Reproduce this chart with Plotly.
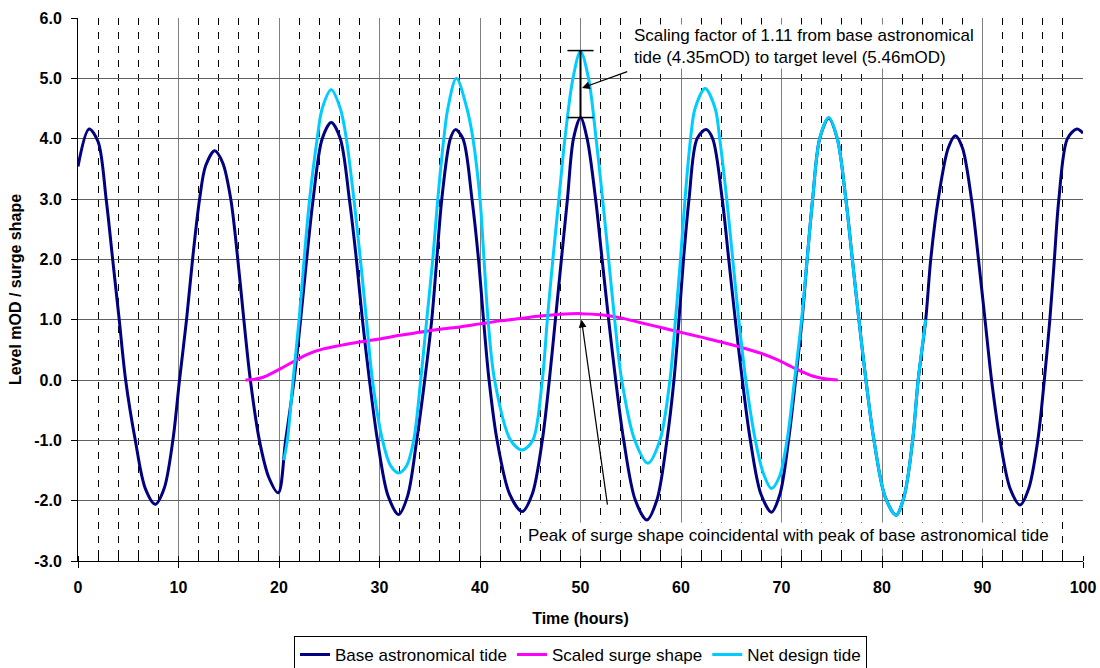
import plotly.graph_objects as go

# ---------------- data ----------------
base_time = [0.0, 1.1, 2.0, 2.8, 3.45, 4.1, 4.74, 5.7, 6.7, 7.7, 8.57, 9.44, 10.1, 10.8, 11.4, 12.1, 12.7, 13.6,
             14.4, 15.2, 15.9, 16.5, 17.15, 18.05, 19.0, 19.93, 20.66, 21.5, 22.15, 22.75, 23.4, 24.3, 25.2,
             26.1, 27.0, 27.7, 28.3, 29.0, 29.8, 30.85, 31.9, 32.8, 33.7, 34.5, 35.2, 35.7, 36.2, 37.05, 37.55,
             38.3, 39.2, 39.85, 40.35, 40.9, 41.7, 42.95, 44.2, 45.2, 46.2, 46.9, 47.5, 48.1, 48.7, 49.3, 50.0,
             50.66, 51.5, 52.15, 52.8, 53.5, 54.3, 55.45, 56.6, 57.6, 58.6, 59.3, 59.8, 60.25, 60.8, 61.6, 62.5,
             63.15, 64.1, 64.75, 65.4, 66.1, 66.9, 67.95, 69.0, 69.85, 70.7, 71.4, 72.05, 72.55, 73.1, 73.8, 74.7,
             75.55, 76.4, 77.05, 77.7, 78.4, 79.2, 80.3, 81.4, 82.2, 83.05, 83.6, 84.35, 84.85, 85.6, 86.6, 87.3,
             88.0, 88.9, 89.6, 90.25, 90.9, 91.75, 92.75, 93.75, 94.6, 95.5, 96.15, 96.7, 97.15, 97.6, 98.45, 99.4,
             100.0]
base_level = [3.54, 4.16, 3.95, 3.0, 2.0, 1.0, 0.0, -1.0, -1.80, -2.06, -1.80, -1.0, 0.0, 1.0, 2.0, 3.0, 3.55, 3.80,
              3.6, 3.0, 2.0, 1.0, 0.0, -1.0, -1.62, -1.87, -1.0, 0.0, 1.0, 2.0, 3.0, 4.0, 4.27,
              4.0, 3.0, 2.0, 1.0, 0.0, -1.0, -1.92, -2.23, -1.92, -1.0, 0.0, 1.0, 2.0, 3.0, 4.0, 4.15,
              4.0, 3.0, 2.0, 1.0, 0.0, -1.0, -1.89, -2.18, -1.89, -1.0, 0.0, 1.0, 2.0, 3.0, 4.0, 4.35,
              4.0, 3.0, 2.0, 1.0, 0.0, -1.0, -1.99, -2.32, -1.99, -1.0, 0.0, 1.0, 2.0, 3.0, 4.0, 4.15,
              4.0, 3.0, 2.0, 1.0, 0.0, -1.0, -1.89, -2.19, -1.89, -1.0, 0.0, 1.0, 2.0, 3.0, 4.0, 4.34,
              4.0, 3.0, 2.0, 1.0, 0.0, -1.0, -1.93, -2.24, -1.93, -1.0, 0.0, 1.0, 2.0, 3.0, 3.85, 4.05,
              3.85, 3.0, 2.0, 1.0, 0.0, -1.0, -1.80, -2.07, -1.80, -1.0, 0.0, 1.0, 2.0, 3.0, 4.0, 4.16,
              4.09]

surge_time = [16.66, 17.5, 18.5, 19.5, 20.5, 21.5, 22.5, 23.5, 24.5, 26.0, 28.0, 30.0, 32.0, 34.0, 36.0, 38.0,
              40.0, 42.0, 44.0, 46.0, 48.0, 50.0, 52.0, 54.0, 56.0, 58.0, 60.0, 62.0, 64.0, 66.0, 68.0, 69.5,
              71.0, 72.0, 73.0, 74.0, 75.0, 75.6]
surge_level = [0.0, 0.01, 0.05, 0.13, 0.22, 0.31, 0.40, 0.47, 0.52, 0.57, 0.63, 0.68, 0.74, 0.79, 0.84, 0.88,
               0.93, 0.98, 1.02, 1.06, 1.09, 1.10, 1.08, 1.03, 0.95, 0.87, 0.79, 0.71, 0.63, 0.54, 0.44, 0.34,
               0.22, 0.14, 0.07, 0.03, 0.01, 0.0]

net_time = [20.47, 20.83, 21.4, 22.0, 22.5, 23.05, 23.8, 24.3, 25.2, 26.1, 26.7, 27.45, 28.1, 28.7, 29.3, 30.3,
            31.1, 31.9, 32.7, 33.4, 34.1, 34.7, 35.3, 35.8, 36.4, 36.8, 37.65, 38.7, 39.3, 40.0, 40.4, 40.8,
            41.45, 43.05, 44.2, 45.25, 46.2, 46.7, 47.25, 47.85, 48.45, 49.25, 50.0, 50.8, 51.55, 52.2, 52.8,
            53.4, 54.1, 55.4, 56.7, 57.9, 58.9, 59.45, 59.95, 60.4, 60.95, 61.4, 62.4, 63.4, 63.85, 64.55,
            65.15, 65.75, 66.45, 67.4, 68.2, 69.0, 69.8, 70.55, 71.3, 72.0, 72.55, 73.1, 73.8, 74.7, 75.55,
            76.4, 77.05, 77.7, 78.4, 79.2, 80.3, 81.4, 82.2, 83.05, 83.6, 84.35]
net_level = [-1.33, -1.0, 0.0, 1.0, 2.0, 3.0, 4.0, 4.5, 4.81, 4.5, 4.0, 3.0, 2.0, 1.0, 0.0, -1.0,
             -1.42, -1.54, -1.42, -1.0, 0.0, 1.0, 2.0, 3.0, 4.0, 4.5, 5.0, 4.5, 4.0, 3.0, 2.0, 1.0,
             0.0, -1.0, -1.16, -1.0, 0.0, 1.0, 2.0, 3.0, 4.0, 5.0, 5.45, 5.0, 4.0, 3.0, 2.0,
             1.0, 0.0, -1.0, -1.38, -1.0, 0.0, 1.0, 2.0, 3.0, 4.0, 4.5, 4.83, 4.5, 4.0, 3.0,
             2.0, 1.0, 0.0, -1.0, -1.55, -1.8, -1.6, -1.0, 0.0, 1.0, 2.0, 3.0, 4.0, 4.35, 4.0,
             3.0, 2.0, 1.0, 0.0, -1.0, -1.93, -2.24, -1.93, -1.0, 0.0, 1.0]

assert len(base_time) == len(base_level)
assert len(surge_time) == len(surge_level)
assert len(net_time) == len(net_level)

series_names = ["Base astronomical tide", "Scaled surge shape", "Net design tide"]
series_colors = ["#000080", "#FF00FF", "#00CCFF"]

x_tick_vals = [0, 10, 20, 30, 40, 50, 60, 70, 80, 90, 100]
x_tick_text = ["0", "10", "20", "30", "40", "50", "60", "70", "80", "90", "100"]
y_tick_vals = [-3, -2, -1, 0, 1, 2, 3, 4, 5, 6]
y_tick_text = ["-3.0", "-2.0", "-1.0", "0.0", "1.0", "2.0", "3.0", "4.0", "5.0", "6.0"]

peak_time = 50.0
base_peak = 4.35
target_level = 5.46
cap_half_width = 1.3

note_scaling = "Scaling factor of 1.11 from base astronomical<br>tide (4.35mOD) to target level (5.46mOD)"
note_peak = "Peak of surge shape coincidental with peak of base astronomical tide"

x_title = "Time (hours)"
y_title = "Level mOD / surge shape"

FONT = "Liberation Sans, Arial, sans-serif"

# ---------------- figure ----------------
fig = go.Figure()
for t, v, name, color in [(base_time, base_level, series_names[0], series_colors[0]),
                          (surge_time, surge_level, series_names[1], series_colors[1]),
                          (net_time, net_level, series_names[2], series_colors[2])]:
    fig.add_trace(go.Scatter(x=t, y=v, name=name, mode="lines",
                             line=dict(color=color, width=3, shape="spline", smoothing=0.9)))

# bracket showing scaling at the peak
fig.add_shape(type="line", xref="x", yref="y", x0=peak_time, x1=peak_time, y0=base_peak, y1=target_level,
              line=dict(color="black", width=2))
for lvl in (base_peak, target_level):
    fig.add_shape(type="line", xref="x", yref="y", x0=peak_time - cap_half_width, x1=peak_time + cap_half_width,
                  y0=lvl, y1=lvl, line=dict(color="black", width=1.5))

# arrows
fig.add_annotation(x=50.15, y=4.84, ax=54.8, ay=5.12, xref="x", yref="y", axref="x", ayref="y",
                   text="", showarrow=True, arrowhead=2, arrowsize=1.3, arrowwidth=1.2, arrowcolor="black")
fig.add_annotation(x=50.1, y=1.0, ax=52.7, ay=-2.09, xref="x", yref="y", axref="x", ayref="y",
                   text="", showarrow=True, arrowhead=2, arrowsize=1.3, arrowwidth=1.2, arrowcolor="black")

# notes
fig.add_annotation(x=55.1, y=5.53, xref="x", yref="y", text=note_scaling, showarrow=False,
                   xanchor="left", yanchor="middle", align="left",
                   font=dict(family=FONT, size=17, color="black"), bgcolor="white")
fig.add_annotation(x=70.7, y=-2.57, xref="x", yref="y", text=note_peak, showarrow=False,
                   xanchor="center", yanchor="middle", align="center", borderpad=3,
                   font=dict(family=FONT, size=17, color="black"), bgcolor="white")

fig.update_layout(
    width=1100, height=668,
    margin=dict(l=78, r=17, t=18, b=107, autoexpand=False),
    plot_bgcolor="white", paper_bgcolor="white",
    font=dict(family=FONT, size=16, color="black"),
    showlegend=True,
    legend=dict(orientation="h", x=0.5, xanchor="center", y=-0.138, yanchor="top",
                bordercolor="black", borderwidth=1, bgcolor="white",
                font=dict(family=FONT, size=17, color="black"), itemwidth=30, tracegroupgap=0),
)

fig.update_xaxes(
    range=[0, 100], tickmode="array", tickvals=x_tick_vals, ticktext=x_tick_text,
    showgrid=True, gridcolor="#808080", gridwidth=1, zeroline=False, automargin=False,
    showline=True, linecolor="black", linewidth=1,
    ticks="outside", ticklen=6, tickcolor="black", ticklabelstandoff=6,
    tickfont=dict(family=FONT, size=16, color="black", weight="bold"),
    minor=dict(tick0=0, dtick=2, showgrid=True, gridcolor="black", gridwidth=1, griddash="7px,7px",
               ticks="inside", ticklen=5, tickcolor="black"),
    title=dict(text=x_title, font=dict(family=FONT, size=16, color="black", weight="bold"), standoff=17),
)
fig.update_yaxes(
    range=[-3, 6], tickmode="array", tickvals=y_tick_vals, ticktext=y_tick_text,
    showgrid=True, gridcolor="#606060", gridwidth=1, zeroline=False, automargin=False,
    showline=True, linecolor="black", linewidth=1,
    ticks="outside", ticklen=6, tickcolor="black", ticklabelstandoff=6,
    tickfont=dict(family=FONT, size=16, color="black", weight="bold"),
    title=dict(text=y_title, font=dict(family=FONT, size=16, color="black", weight="bold"), standoff=8),
)

fig.write_html("out.html", config={"displayModeBar": False},
               post_script="document.body.style.margin='0';")
